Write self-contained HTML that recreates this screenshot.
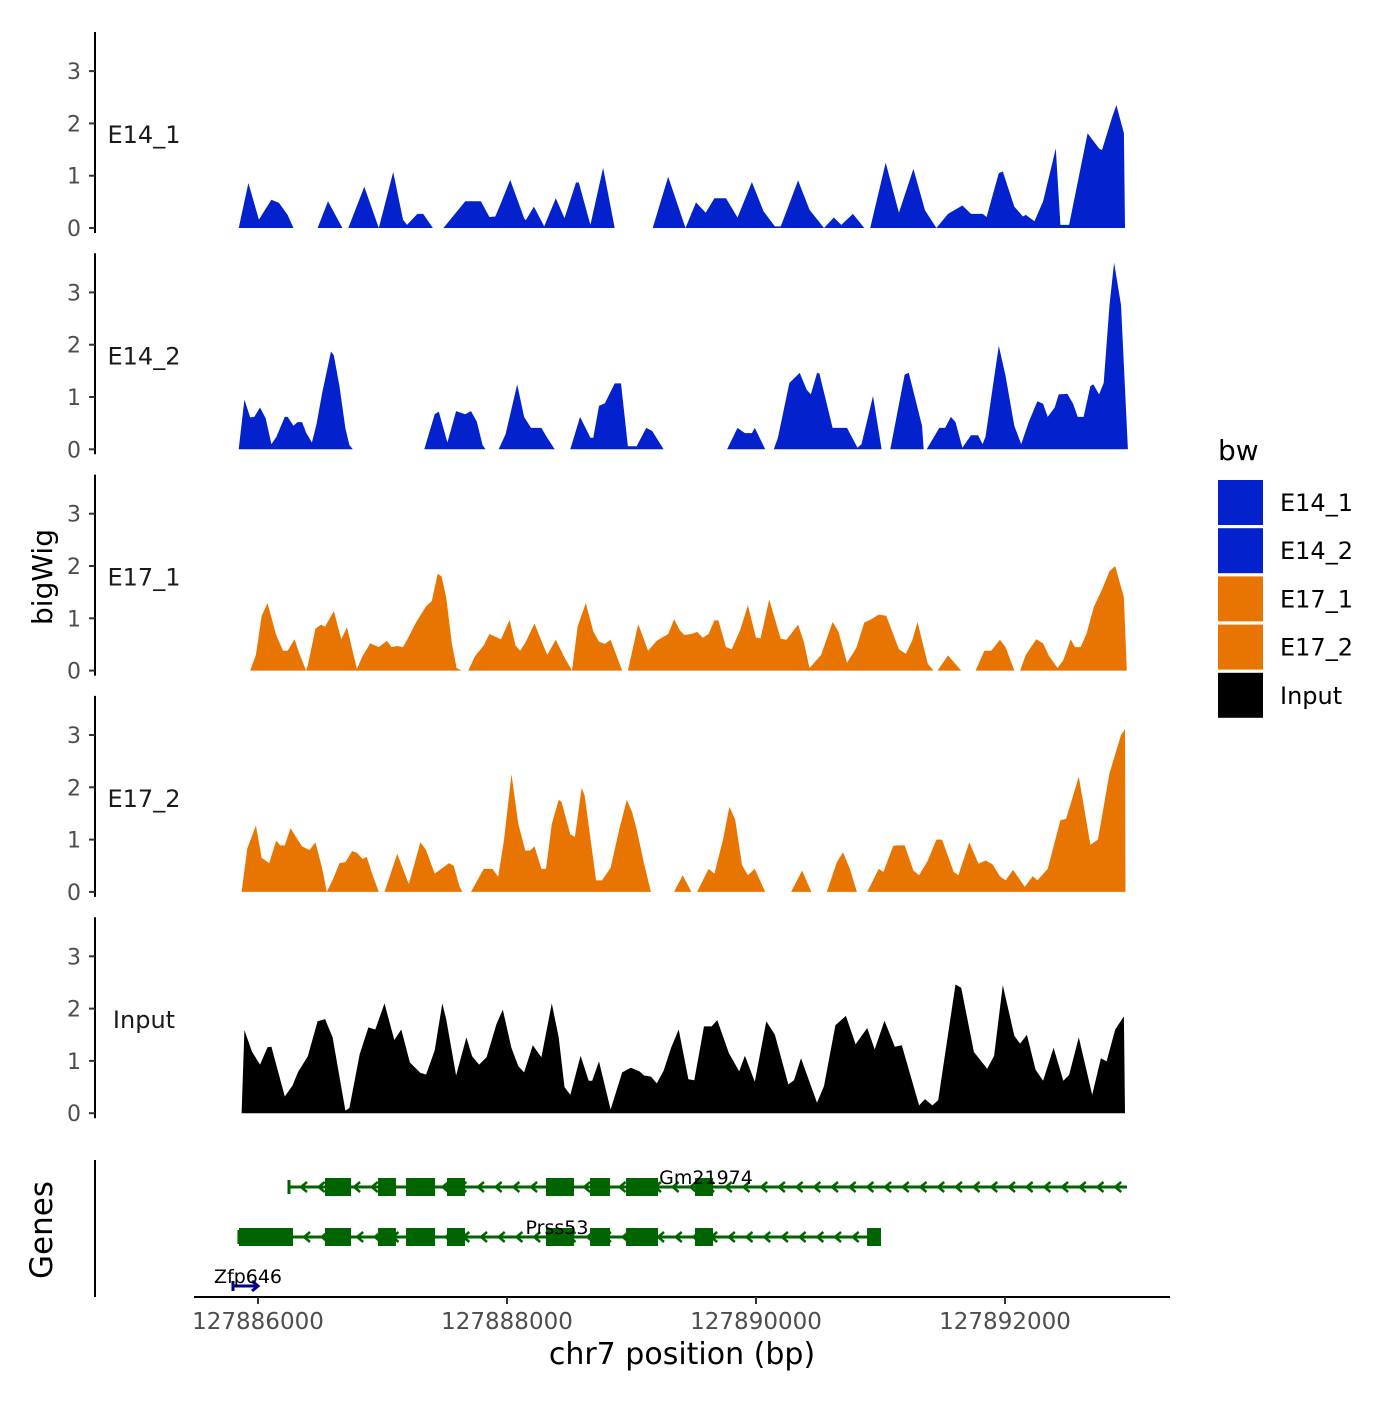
<!DOCTYPE html>
<html><head><meta charset="utf-8"><style>
body{margin:0;background:#fff}
svg text{font-family:"DejaVu Sans","Liberation Sans",sans-serif}
</style></head><body>
<svg id="chart" width="1400" height="1400" viewBox="0 0 1400 1400" xmlns="http://www.w3.org/2000/svg">
<rect width="1400" height="1400" fill="#fff"/>
<g id="panels"></g>
<g id="genes"></g>
<text x="52" y="577" font-size="28" text-anchor="middle" transform="rotate(-90 52 577)">bigWig</text>
<text x="52" y="1230" font-size="31" text-anchor="middle" transform="rotate(-90 52 1230)">Genes</text>
<line x1="95" y1="1160" x2="95" y2="1297" stroke="#000" stroke-width="2"/>
<line x1="194" y1="1297" x2="1170" y2="1297" stroke="#000" stroke-width="2"/>
<g id="xaxis"></g>
<text x="682" y="1364" font-size="30" text-anchor="middle">chr7 position (bp)</text>
<g id="legend">
<text x="1218" y="460" font-size="28">bw</text>
</g>
</svg>
<script>
const sampleNames = ["E14_1","E14_2","E17_1","E17_2","Input"];
const sampleColors = ["#0321cc","#0321cc","#e87502","#e87502","#000000"];
const yTicks = [0,1,2,3];
const xTicks = [127886000,127888000,127890000,127892000];
const xTickLabels = ["127886000","127888000","127890000","127892000"];
const origin = 127886000;
// positions are bp offsets from origin; null value breaks the track
const e14_1_pos = [-155,-77,7,108,169,238,285,300,479,562,678,700,725,854,970,1086,1165,1197,1280,1327,1405,1450,1489,1665,1790,1859,1906,1952,2026,2137,2151,2216,2299,2392,2462,2554,2577,2670,2772,2865,3000,3170,3295,3434,3518,3596,3666,3759,3851,3967,4060,4152,4199,4338,4430,4546,4625,4685,4778,4870,4917,5042,5148,5264,5357,5449,5542,5658,5727,5820,5852,5950,5982,6075,6144,6167,6237,6306,6408,6445,6515,6663,6756,6779,6862,6895,6955,6964];
const e14_1_val = [0,0.86,0.16,0.54,0.48,0.25,0,null,0,0.51,0,null,0,0.79,0,1.07,0.16,0.06,0.27,0.27,0,null,0,0.51,0.51,0.21,0.22,0.48,0.92,0.19,0.15,0.41,0.03,0.57,0.19,0.87,0.87,0.06,1.15,0,null,0,0.98,0,0.49,0.29,0.57,0.57,0.2,0.88,0.32,0.03,0.03,0.91,0.35,0,0.2,0.06,0.27,0,0,1.25,0.29,1.13,0.34,0,0.27,0.43,0.27,0.27,0.21,1.05,1.08,0.41,0.22,0.25,0.13,0.51,1.52,0.06,0.06,1.81,1.52,1.49,2.13,2.35,1.81,0];
const e14_2_pos = [-155,-109,-63,-30,16,62,108,146,215,238,285,317,354,386,433,470,516,586,609,655,702,734,762,1000,1336,1419,1452,1521,1591,1665,1711,1757,1804,1827,1880,1933,1989,2082,2137,2193,2276,2323,2383,2450,2508,2587,2670,2693,2739,2786,2865,2916,2971,3041,3119,3166,3258,3500,3768,3851,3911,3967,3990,4074,4100,4143,4176,4268,4351,4407,4440,4491,4509,4615,4731,4815,4847,4940,5009,5040,5079,5194,5227,5333,5347,5360,5371,5472,5519,5565,5602,5658,5727,5783,5820,5843,5950,6005,6075,6130,6190,6260,6306,6343,6399,6431,6501,6547,6584,6631,6686,6709,6756,6793,6839,6876,6932,6987];
const e14_2_val = [0,0.95,0.61,0.62,0.8,0.59,0.1,0.23,0.62,0.62,0.45,0.52,0.52,0.32,0.13,0.48,1.08,1.87,1.8,1.2,0.4,0.08,0,null,0,0.67,0.72,0.13,0.73,0.67,0.73,0.53,0.08,0,null,0,0.29,1.24,0.62,0.41,0.41,0.22,0,null,0,0.62,0.22,0.22,0.83,0.88,1.26,1.26,0.06,0.06,0.41,0.35,0,null,0,0.41,0.31,0.31,0.41,0,null,0,0.22,1.27,1.46,1.14,1.05,1.46,1.45,0.41,0.41,0.03,0.1,1.02,0,null,0,1.43,1.46,0.45,0,null,0,0.41,0.41,0.62,0.52,0.03,0.27,0.27,0.1,0.24,1.98,1.4,0.45,0.1,0.52,0.92,0.87,0.62,0.8,1.05,1.06,0.87,0.62,0.62,1.21,1.24,1.05,1.27,2.76,3.57,2.76,0];
const e17_1_pos = [-63,-17,30,76,146,201,238,294,331,386,400,461,507,539,609,669,715,794,840,901,970,1035,1072,1118,1165,1211,1267,1350,1396,1443,1475,1512,1558,1595,1637,1660,1688,1744,1813,1859,1952,2021,2068,2105,2146,2221,2276,2323,2392,2462,2522,2568,2633,2693,2739,2786,2832,2925,2950,2971,3054,3133,3203,3295,3342,3388,3425,3481,3527,3573,3619,3666,3698,3759,3805,3874,3935,4000,4037,4106,4198,4245,4338,4384,4430,4523,4615,4662,4731,4805,4870,4917,4986,5046,5148,5204,5255,5297,5380,5426,5440,5458,5542,5648,5700,5764,5834,5889,5959,6005,6075,6100,6121,6167,6251,6306,6353,6422,6468,6528,6561,6607,6654,6714,6779,6839,6885,6955,6978];
const e17_1_val = [0,0.3,1.05,1.29,0.68,0.38,0.38,0.6,0.33,0,0.1,0.8,0.88,0.84,1.14,0.6,0.83,0.03,0.28,0.52,0.45,0.57,0.45,0.47,0.45,0.65,0.91,1.23,1.33,1.85,1.8,1.4,0.5,0.05,0,null,0,0.28,0.48,0.7,0.6,0.97,0.48,0.38,0.53,0.9,0.57,0.3,0.59,0.25,0,0.85,1.29,0.75,0.55,0.51,0.59,0,null,0,0.89,0.38,0.57,0.7,0.98,0.77,0.68,0.7,0.74,0.63,0.7,0.96,0.96,0.45,0.41,0.78,1.25,0.63,0.62,1.36,0.61,0.59,0.88,0.55,0.05,0.3,0.93,0.75,0.15,0.43,0.92,0.97,1.07,1.05,0.41,0.32,0.58,0.93,0.13,0,null,0,0.29,0,null,0,0.38,0.38,0.59,0.45,0,null,0,0.3,0.6,0.52,0.28,0.05,0.2,0.6,0.45,0.45,0.7,1.22,1.55,1.9,2.0,1.4,0];
const e17_2_pos = [-132,-86,-17,30,90,146,178,215,261,308,354,414,461,516,553,609,655,702,757,794,840,873,924,970,990,1016,1063,1118,1211,1304,1350,1419,1466,1535,1572,1619,1642,1680,1711,1813,1883,1929,1975,2036,2091,2147,2184,2221,2276,2313,2360,2415,2438,2508,2545,2600,2624,2716,2763,2832,2902,2962,3004,3041,3101,3156,3250,3342,3411,3481,3500,3527,3619,3666,3735,3786,3833,3888,3935,3990,4074,4200,4282,4370,4444,4500,4569,4648,4699,4754,4810,4850,4893,4986,5023,5102,5140,5194,5264,5310,5380,5449,5495,5588,5625,5713,5787,5843,5899,5959,6005,6065,6158,6223,6260,6343,6445,6491,6593,6686,6746,6839,6932,6964,6968];
const e17_2_val = [0,0.83,1.27,0.65,0.55,0.98,0.89,0.89,1.22,1.04,0.87,0.8,0.95,0.45,0,0.28,0.55,0.57,0.78,0.75,0.63,0.67,0.3,0,null,0,0.33,0.73,0.15,0.95,0.8,0.35,0.43,0.55,0.5,0.1,0,null,0,0.44,0.44,0.29,0.98,2.25,1.3,0.79,0.79,0.87,0.44,0.44,1.3,1.76,1.72,1.1,1.05,1.99,1.84,0.22,0.22,0.46,1.2,1.76,1.53,1.2,0.54,0,null,0,0.32,0,null,0,0.44,0.35,1.0,1.63,1.38,0.51,0.32,0.44,0,null,0,0.41,0,null,0,0.56,0.76,0.44,0,null,0,0.44,0.38,0.88,0.89,0.89,0.41,0.32,0.6,1.0,1.0,0.38,0.32,0.95,0.54,0.6,0.53,0.3,0.22,0.42,0.1,0.3,0.22,0.44,1.37,1.4,2.2,0.9,1.0,2.27,3.0,3.11,0];
const input_pos = [-132,-109,-49,16,76,108,215,277,322,400,479,539,599,702,734,817,887,942,1016,1095,1151,1220,1304,1350,1419,1480,1512,1591,1674,1720,1776,1836,1915,1966,2035,2091,2137,2207,2276,2360,2415,2462,2508,2591,2656,2684,2739,2832,2925,2994,3064,3101,3156,3203,3258,3318,3379,3457,3504,3582,3643,3689,3782,3865,3911,3990,4083,4152,4259,4305,4361,4490,4546,4638,4722,4800,4893,4953,5032,5115,5171,5310,5357,5417,5463,5602,5648,5750,5857,5912,5982,6075,6121,6176,6246,6306,6390,6468,6515,6593,6700,6770,6816,6885,6955,6964];
const input_val = [0,1.59,1.18,0.93,1.26,1.27,0.32,0.53,0.79,1.09,1.76,1.8,1.45,0.05,0.1,1.13,1.64,1.6,2.1,1.4,1.6,0.97,0.77,0.74,1.2,2.1,1.8,0.72,1.45,1.09,0.93,1.07,1.7,1.98,1.25,0.9,0.78,1.3,1.07,2.1,1.45,0.5,0.35,1.1,0.62,0.62,0.99,0.07,0.78,0.87,0.8,0.72,0.7,0.57,0.81,1.25,1.6,0.65,0.63,1.66,1.66,1.78,1.15,0.8,1.1,0.6,1.76,1.5,0.55,0.63,1.05,0.2,0.52,1.68,1.86,1.32,1.63,1.22,1.77,1.27,1.3,0.15,0.27,0.15,0.25,2.46,2.4,1.17,0.85,1.1,2.45,1.48,1.33,1.5,0.83,0.62,1.25,0.62,0.73,1.45,0.35,1.05,0.99,1.6,1.85,0];
const seriesPos = [e14_1_pos,e14_2_pos,e17_1_pos,e17_2_pos,input_pos];
const seriesVal = [e14_1_val,e14_2_val,e17_1_val,e17_2_val,input_val];
// genes (bp offsets)
const geneNames = ["Gm21974","Prss53","Zfp646"];
const geneStart = [249,-153,-201];
const geneEnd = [6980,5004,0];
const geneStrand = [-1,-1,1];
const gmExonStart = [538,964,1189,1518,2313,2667,2956,3510];
const gmExonEnd = [747,1108,1422,1663,2538,2827,3213,3655];
const prExonStart = [-153,538,964,1189,1518,2313,2667,2956,3510,4892];
const prExonEnd = [281,747,1108,1422,1663,2538,2827,3213,3655,5004];

const NS="http://www.w3.org/2000/svg";
function mk(t,a,p){const e=document.createElementNS(NS,t);for(const k in a)e.setAttribute(k,a[k]);p.appendChild(e);return e;}
const xScale = bp => 258 + bp/8.032;
const xAbs = v => xScale(v-origin);
const panelZero = i => 228 + i*221.3;
const yScale = (i,v) => panelZero(i) - v*52.3;

const panels=document.getElementById('panels');
sampleNames.forEach((nm,i)=>{
  const g=mk('g',{},panels);
  
  
  const z=panelZero(i);
  const ax=mk('line',{x1:95,y1:z-196,x2:95,y2:z+5,stroke:'#000','stroke-width':2},g);
  
  
  yTicks.forEach(t=>{
    const y=yScale(i,t);
    const tl=mk('line',{x1:89,y1:y,x2:95,y2:y,stroke:'#333','stroke-width':2},g);
    
    
    const tx=mk('text',{x:81,y:y+8,'font-size':22,'text-anchor':'end',fill:'#4d4d4d'},g);
    tx.textContent=t;
    
    
  });
  const lab=mk('text',{x:144,y:z-85,'font-size':24,'text-anchor':'middle',fill:'#1a1a1a'},g);
  lab.textContent=nm;
  
  
  const P=seriesPos[i],V=seriesVal[i];
  let d='',seg=[];
  const flush=()=>{ if(seg.length>1){ d+='M'+xScale(seg[0][0]).toFixed(1)+','+z; seg.forEach(p=>{d+='L'+xScale(p[0]).toFixed(1)+','+yScale(i,p[1]).toFixed(1);}); d+='L'+xScale(seg[seg.length-1][0]).toFixed(1)+','+z+'Z';} seg=[]; };
  for(let k=0;k<P.length;k++){ if(V[k]===null){flush();} else seg.push([P[k],V[k]]); }
  flush();
  const ar=mk('path',{d:d,fill:sampleColors[i]},g);
  
  
});

const gg=document.getElementById('genes');
const green='#006400';
function drawGene(idx,y,exS,exE){
  const g=mk('g',{},gg);
  
  
  const x1=xScale(geneStart[idx]),x2=xScale(geneEnd[idx]);
  mk('line',{x1:x1,y1:y,x2:x2,y2:y,stroke:green,'stroke-width':3},g);
  mk('line',{x1:x1,y1:y-7,x2:x1,y2:y+7,stroke:green,'stroke-width':3},g);
  for(let x=x1+14;x<x2-4;x+=17.7){
    mk('path',{d:`M${x+4},${y-5}L${x-2},${y}L${x+4},${y+5}`,fill:'none',stroke:green,'stroke-width':2.5},g);
  }
  exS.forEach((s,k)=>{
    const r=mk('rect',{x:xScale(s),y:y-9,width:xScale(exE[k])-xScale(s),height:18,fill:green},g);
    
    
  });
  return g;
}
drawGene(0,1187,gmExonStart,gmExonEnd);
drawGene(1,1237,prExonStart,prExonEnd);
const zg=mk('g',{},gg);


const zx1=xScale(geneStart[2]),zx2=xScale(geneEnd[2]);
mk('line',{x1:zx1,y1:1286,x2:zx2,y2:1286,stroke:'#00008b','stroke-width':3},zg);
mk('path',{d:`M${zx2-6},${1281}L${zx2},${1286}L${zx2-6},${1291}`,fill:'none',stroke:'#00008b','stroke-width':3},zg);
mk('line',{x1:zx1,y1:1281,x2:zx1,y2:1291,stroke:'#00008b','stroke-width':3},zg);
const gl=[[706,1184],[557,1234],[248,1283]];
geneNames.forEach((n,k)=>{
  const t=mk('text',{x:gl[k][0],y:gl[k][1],'font-size':19,'text-anchor':'middle',fill:'#000'},gg);
  t.textContent=n;
  
  
});

const xa=document.getElementById('xaxis');
xTicks.forEach((t,k)=>{
  const x=xAbs(t);
  const l=mk('line',{x1:x,y1:1297,x2:x,y2:1304,stroke:'#333','stroke-width':2},xa);
  
  
  const tx=mk('text',{x:x,y:1329,'font-size':23,'text-anchor':'middle',fill:'#4d4d4d'},xa);
  tx.textContent=xTickLabels[k];
  
  
});

const lg=document.getElementById('legend');
const legendLabels=["E14_1","E14_2","E17_1","E17_2","Input"];
legendLabels.forEach((n,k)=>{
  const y=480+k*48.2;
  const r=mk('rect',{x:1218,y:y,width:45,height:45,fill:sampleColors[k]},lg);
  
  
  const t=mk('text',{x:1280,y:y+31,'font-size':24,fill:'#000'},lg);
  t.textContent=n;
  
  
});
</script>
</body></html>
